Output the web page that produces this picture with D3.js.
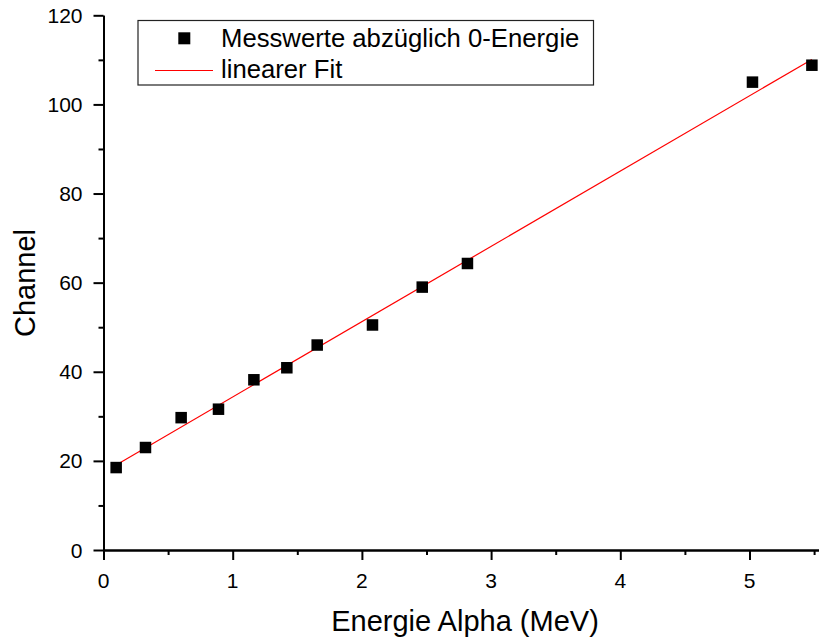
<!DOCTYPE html>
<html><head><meta charset="utf-8">
<script src="https://cdn.jsdelivr.net/npm/d3@7"></script>
<style>body{margin:0;background:#fff}svg{display:block}</style>
</head><body><svg id="c" width="819" height="638" font-family="'Liberation Sans', Arial, sans-serif"></svg>
<script>
const energy = [0.098, 0.325, 0.601, 0.890, 1.164, 1.419, 1.654, 2.082, 2.467, 2.817, 5.023, 5.483];
const channel = [18.5, 23.0, 29.7, 31.6, 38.2, 40.9, 46.0, 50.5, 59.0, 64.3, 105.0, 108.8];
const fitX = [0.098, 5.483];
const fitY = [19.1, 110.1];
const xTicks = [0, 1, 2, 3, 4, 5];
const yTicks = [0, 20, 40, 60, 80, 100, 120];
const legendLabels = ["Messwerte abzüglich 0-Energie", "linearer Fit"];

const FONT = "'Liberation Sans', Arial, sans-serif";
const svg = d3.select("#c");
const x = d3.scaleLinear().domain([0, 5.6]).range([103.5, 103.5 + 5.6 * 129.2]);
const y = d3.scaleLinear().domain([0, 120]).range([550, 15.3]);

const xAxis = d3.axisBottom(x).tickValues(xTicks).tickFormat("").tickSize(10).tickSizeOuter(0);
const xMinor = d3.axisBottom(x).tickValues(d3.range(0.5, 5.6, 1)).tickFormat("").tickSize(5).tickSizeOuter(0);
const yAxis = d3.axisLeft(y).tickValues(yTicks).tickFormat("").tickSize(10).tickSizeOuter(0);
const yMinor = d3.axisLeft(y).tickValues(d3.range(10, 120, 20)).tickFormat("").tickSize(5).tickSizeOuter(0);

function style(g){
  g.selectAll("path.domain").attr("stroke","#000").attr("stroke-width",2);
  g.selectAll(".tick line").attr("stroke","#000").attr("stroke-width",2);
}
svg.append("g").attr("transform","translate(0,550)").call(xMinor).call(style);
svg.append("g").attr("transform","translate(0,550)").call(xAxis).call(style);
svg.append("g").attr("transform","translate(103.5,0)").call(yMinor).call(style);
svg.append("g").attr("transform","translate(103.5,0)").call(yAxis).call(style);

svg.append("g").selectAll("text").data(xTicks).join("text")
  .attr("x", d => x(d)).attr("y", 587.5).attr("text-anchor","middle")
  .attr("font-size", 21).attr("font-family", FONT).attr("fill","#000").text(d => d);
svg.append("g").selectAll("text").data(yTicks).join("text")
  .attr("x", 82.5).attr("y", d => y(d) + 7.5).attr("text-anchor","end")
  .attr("font-size", 21).attr("font-family", FONT).attr("fill","#000").text(d => d);

svg.append("line")
  .attr("x1", x(fitX[0])).attr("y1", y(fitY[0]))
  .attr("x2", x(fitX[1])).attr("y2", y(fitY[1]))
  .attr("stroke", "#ff0000").attr("stroke-width", 1.2);

const s = 11.5;
svg.append("g").selectAll("rect").data(energy.map((e,i)=>[e,channel[i]])).join("rect")
  .attr("x", d => x(d[0]) - s/2).attr("y", d => y(d[1]) - s/2)
  .attr("width", s).attr("height", s).attr("fill", "#000");

svg.append("text").attr("x", 465).attr("y", 630.5).attr("text-anchor","middle")
  .attr("font-size", 29).attr("font-family", FONT).text("Energie Alpha (MeV)");
svg.append("text").attr("transform","translate(35,283) rotate(-90)").attr("text-anchor","middle")
  .attr("font-size", 29).attr("font-family", FONT).text("Channel");

const lg = svg.append("g");
lg.append("rect").attr("x",138).attr("y",20.5).attr("width",455.5).attr("height",64.5)
  .attr("fill","#fff").attr("stroke","#222").attr("stroke-width",1.2);
lg.append("rect").attr("x",184.3-6).attr("y",38.3-6).attr("width",12).attr("height",12).attr("fill","#000");
lg.append("line").attr("x1",155).attr("x2",213).attr("y1",70.5).attr("y2",70.5).attr("stroke","#ff0000").attr("stroke-width",1.2);
lg.append("text").attr("x",221).attr("y",47.3).attr("font-size",25.7).attr("font-family", FONT).text(legendLabels[0]);
lg.append("text").attr("x",221).attr("y",78.3).attr("font-size",25.7).attr("font-family", FONT).text(legendLabels[1]);
</script></body></html>
